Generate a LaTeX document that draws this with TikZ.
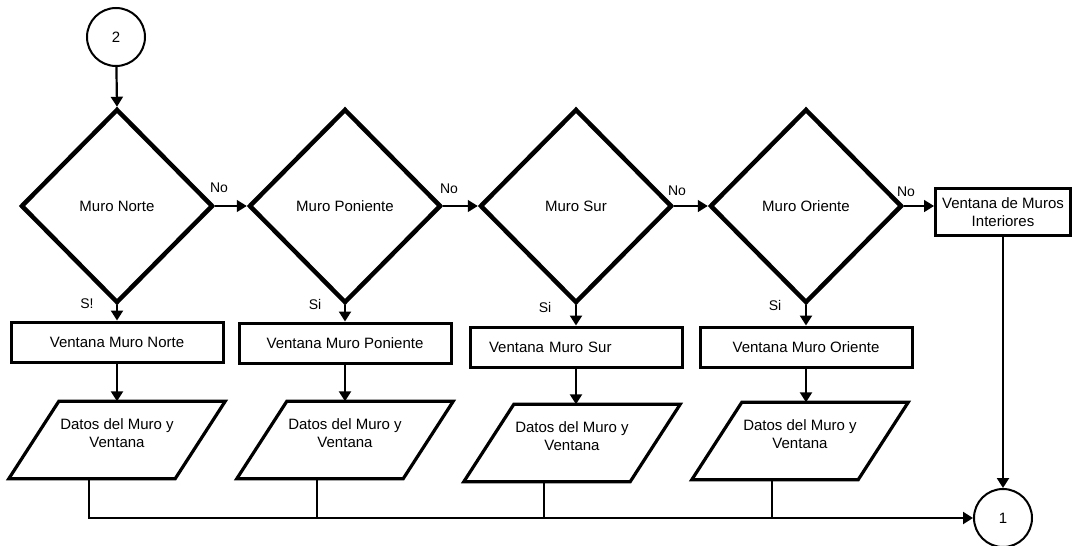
\documentclass[tikz,border=0pt]{standalone}
\usepackage{fontspec}
\setmainfont{Liberation Sans}
\usetikzlibrary{shapes.geometric,arrows.meta,calc}
\begin{document}
\begin{tikzpicture}[x=1pt,y=-1pt,
  every node/.style={font=\fontsize{15}{17.5}\selectfont},
  decision/.style={draw,diamond,line width=4.5pt,minimum width=192pt,minimum height=194pt,inner sep=0pt,shape aspect=1},
  process/.style={draw,rectangle,line width=3pt,minimum width=212pt,minimum height=40pt,inner sep=2pt},
  datos/.style={rectangle,minimum width=166pt,minimum height=77pt,align=center,inner sep=0pt},
  datosline/.style={line width=3.2pt,line join=miter},
  connector/.style={draw,circle,line width=2pt,minimum size=58pt,inner sep=0pt},
  flow/.style={line width=2.2pt,-{Triangle[width=12pt,length=10pt]}},
  thinflow/.style={line width=1.6pt,-{Triangle[width=12pt,length=10pt]}},
  joint/.style={line width=2.2pt},
  tag/.style={font=\fontsize{14}{16}\selectfont,inner sep=0pt}
]
\useasboundingbox (0,0) rectangle (1080,546);

% connectors
\node[connector] (c2) at (116,37) {2};
\node[connector] (c1) at (1003,518) {1};

% decisions
\node[decision] (m1) at (117,206) {Muro Norte};
\node[decision] (m2) at (345,206) {Muro Poniente};
\node[decision] (m3) at (576,206) {Muro Sur};
\node[decision] (m4) at (806,206) {Muro Oriente};

% processes
\node[process,minimum width=135pt,minimum height=47pt,align=center] (vi) at (1003,212) {Ventana de Muros\\Interiores};
\node[process] (v1) at (117,342) {Ventana Muro Norte};
\node[process] (v2) at (345,343) {Ventana Muro Poniente};
\node[process,text width=194pt,align=left] (v3) at (576,347) {\hspace*{10pt}Ventana Muro Sur};
\node[process] (v4) at (806,347) {Ventana Muro Oriente};

% data (parallelograms leaning right)
\node[datos] (p1) at (117,440) {Datos del Muro y\\Ventana\\[-4pt]};
\node[datos] (p2) at (345,440) {Datos del Muro y\\Ventana\\[-4pt]};
\node[datos] (p3) at (572,443) {Datos del Muro y\\Ventana\\[-4pt]};
\node[datos] (p4) at (800,441) {Datos del Muro y\\Ventana\\[-4pt]};
\foreach \i in {1,2,3,4}{
  \draw[datosline] ([xshift=-25pt]p\i.south west) -- ([xshift=25pt]p\i.north west)
    -- ([xshift=25pt]p\i.north east) -- ([xshift=-25pt]p\i.south east) -- cycle;
  \coordinate (b\i) at ([xshift=-28pt]p\i.south);
}

% flow
\draw[flow] (c2) -- (m1.north);
\draw[thinflow] (m1.east) -- (m2.west);
\draw[thinflow] (m2.east) -- (m3.west);
\draw[thinflow] (m3.east) -- (m4.west);
\draw[thinflow] (m4.east) -- (m4.east -| vi.west);

\foreach \i in {1,2,3,4}{
  \draw[flow] (m\i.south) -- (v\i.north);
  \draw[flow] (v\i.south) -- (v\i.south |- p\i.north);
}
\draw[flow] (b1) |- (c1.west);
\foreach \i in {2,3,4}{
  \draw[joint] (b\i) -- (b\i |- c1.west);
}
\draw[flow] (vi.south) -- (c1.north);

% branch labels
\node[tag] (n1) at (219,188) {No};
\node[tag] (n2) at (449,189) {No};
\node[tag] (n3) at (677,191) {No};
\node[tag] (n4) at (906,192) {No};
\node[tag] (s1) at (87,304) {S!};
\node[tag] (s2) at (315,304) {Si};
\node[tag] (s3) at (545,307) {Si};
\node[tag] (s4) at (775,305) {Si};
\end{tikzpicture}
\end{document}
